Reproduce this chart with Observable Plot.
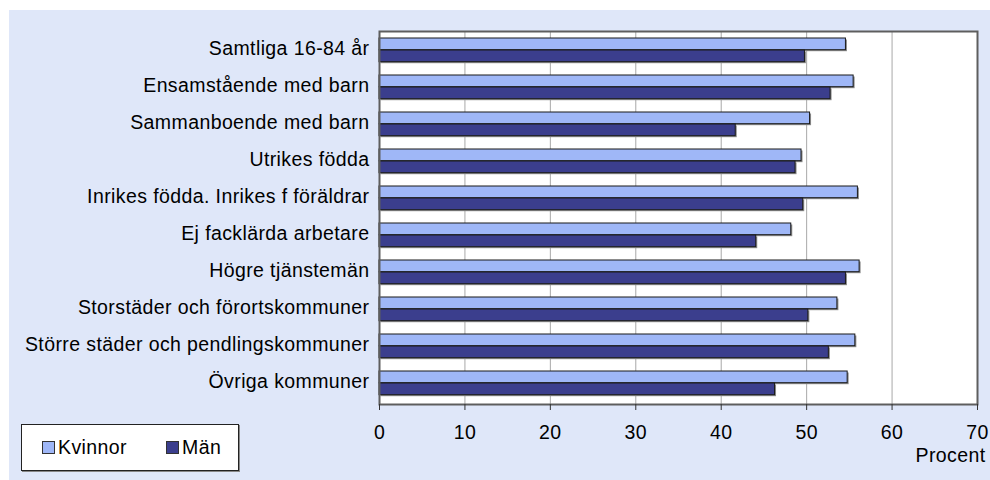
<!DOCTYPE html>
<html>
<head>
<meta charset="utf-8">
<script src="https://cdn.jsdelivr.net/npm/d3@7"></script>
<script src="https://cdn.jsdelivr.net/npm/@observablehq/plot@0.6"></script>
<style>
  html, body { margin: 0; padding: 0; background: #ffffff; }
  #wrap { position: relative; width: 990px; height: 480px; overflow: hidden; font-family: "Liberation Sans", Arial, sans-serif; }
  #panel { position: absolute; left: 9px; top: 10px; right: 0; bottom: 0; background: #dfe7f9; }
  #chart { position: absolute; left: 0; top: 0; }
  #chart svg text { letter-spacing: 0.4px; }
  #legend { position: absolute; left: 21px; top: 424px; width: 216px; height: 45px; background: #ffffff; border: 1px solid #222; box-shadow: 1px 1px 0 #888; }
  .item { position: absolute; top: 0; height: 45px; display: flex; align-items: center; font-size: 19.5px; letter-spacing: 0.4px; color: #000; }
  .sw { width: 11px; height: 11px; border: 1px solid #333; margin-right: 3px; }
</style>
</head>
<body>
<div id="wrap">
  <div id="panel"></div>
  <div id="chart"></div>
  <div id="legend"></div>
</div>
<script>
const categories = [
  "Samtliga 16-84 år",
  "Ensamstående med barn",
  "Sammanboende med barn",
  "Utrikes födda",
  "Inrikes födda. Inrikes f föräldrar",
  "Ej facklärda arbetare",
  "Högre tjänstemän",
  "Storstäder och förortskommuner",
  "Större städer och pendlingskommuner",
  "Övriga kommuner"
];
const seriesNames = ["Kvinnor", "Män"];
const kvinnor = [54.6, 55.5, 50.4, 49.4, 56.0, 48.2, 56.2, 53.6, 55.7, 54.8];
const man     = [49.8, 52.8, 41.7, 48.7, 49.6, 44.1, 54.6, 50.2, 52.6, 46.3];
const xTicks = [0, 10, 20, 30, 40, 50, 60, 70];
const gridTicks = [10, 20, 30, 40, 50, 60];
const colors = ["#9fb7f7", "#3b3e8d"];
const axisLabel = "Procent";

const dataK = categories.map((c, i) => ({cat: c, value: kvinnor[i]}));
const dataM = categories.map((c, i) => ({cat: c, value: man[i]}));

const font = "Liberation Sans, Arial, sans-serif";
const fs = "19.5px";

const chart = Plot.plot({
  width: 990,
  height: 480,
  marginLeft: 379,
  marginRight: 13,
  marginTop: 31,
  marginBottom: 76,
  style: {background: "transparent", fontFamily: font, fontSize: fs, color: "#000"},
  x: {domain: [0, 70], ticks: xTicks, label: null},
  y: {domain: categories, padding: 0, label: null},
  marks: [
    Plot.frame({fill: "#ffffff", stroke: null}),
    Plot.gridX(gridTicks, {stroke: "#a8a8a8", strokeOpacity: 1, strokeWidth: 1}),
    // shadows
    Plot.barX(dataK, {y: "cat", x: "value", insetTop: 5, insetBottom: 20.3, fill: "#8a8a8a", dx: 1.5, dy: 1.5}),
    Plot.barX(dataM, {y: "cat", x: "value", insetTop: 17, insetBottom: 8.3, fill: "#8a8a8a", dx: 1.5, dy: 1.5}),
    Plot.barX(dataK, {y: "cat", x: "value", insetTop: 5, insetBottom: 20.3, fill: colors[0], stroke: "#1a1a1a", strokeWidth: 1}),
    Plot.barX(dataM, {y: "cat", x: "value", insetTop: 17, insetBottom: 8.3, fill: colors[1], stroke: "#1a1a1a", strokeWidth: 1}),
    Plot.frame({stroke: "#5e5e5e", strokeWidth: 2}),
    Plot.axisY({tickSize: 0, tickPadding: 10, dy: -3, label: null, fontSize: fs}),
    Plot.axisX({ticks: xTicks, tickSize: 6, tickPadding: 15, label: null, fontSize: fs, stroke: "#333"}),
    Plot.text([axisLabel], {frameAnchor: "bottom-right", text: d => d, textAnchor: "end", dx: 8, dy: 57, fontSize: fs, fill: "#000"})
  ]
});
document.getElementById("chart").appendChild(chart);

const legend = document.getElementById("legend");
const lefts = [20, 144];
seriesNames.forEach((name, i) => {
  const item = document.createElement("div");
  item.className = "item";
  item.style.left = lefts[i] + "px";
  const sw = document.createElement("div");
  sw.className = "sw";
  sw.style.background = colors[i];
  const t = document.createElement("span");
  t.textContent = name;
  item.appendChild(sw);
  item.appendChild(t);
  legend.appendChild(item);
});
</script>
</body>
</html>
